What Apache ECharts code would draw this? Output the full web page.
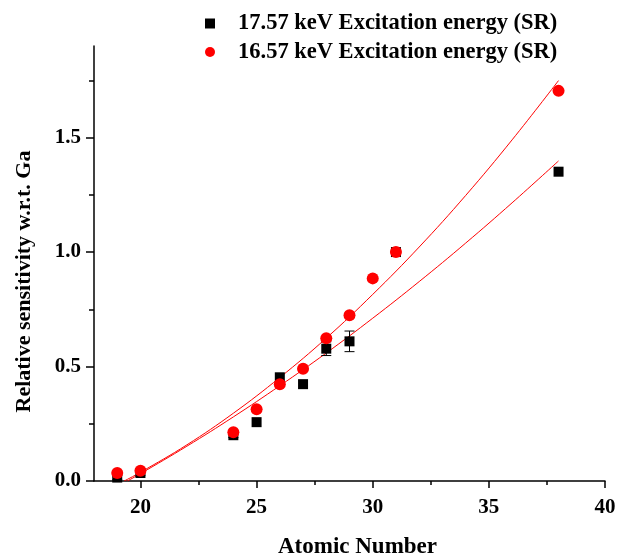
<!DOCTYPE html>
<html>
<head>
<meta charset="utf-8">
<script src="https://cdn.jsdelivr.net/npm/echarts@6/dist/echarts.min.js"></script>
<style>html,body{margin:0;padding:0;background:#fff}#c{width:617px;height:553px}</style>
</head>
<body>
<div id="c"></div>
<script>
// Data
const zSR17 = [19, 20, 24, 25, 26, 27, 28, 29, 31, 38];
const sensSR17 = [0.015, 0.035, 0.20, 0.257, 0.453, 0.423, 0.578, 0.61, 1.0, 1.351];
const errSR17 = [0.01, 0.01, 0.01, 0, 0, 0, 0.03, 0.045, 0, 0];

const zSR16 = [19, 20, 24, 25, 26, 27, 28, 29, 30, 31, 38];
const sensSR16 = [0.035, 0.045, 0.213, 0.313, 0.423, 0.49, 0.623, 0.724, 0.885, 1.0, 1.704];

// Fit curves, points
const fitZ17 = [19.44, 20, 22, 24, 26, 28, 30, 32, 34, 36, 38];
const fitY17 = [0, 0.032, 0.152, 0.280, 0.416, 0.559, 0.711, 0.871, 1.039, 1.215, 1.398];
const fitZ16 = [19.3, 20, 22, 24, 26, 28, 30, 32, 34, 36, 38];
const fitY16 = [0, 0.038, 0.158, 0.296, 0.452, 0.624, 0.815, 1.022, 1.247, 1.490, 1.749];

const xMajor = [20, 25, 30, 35, 40];
const xMinor = [22.5, 27.5, 32.5, 37.5];
const yMajor = [0, 0.5, 1.0, 1.5];
const yMinor = [0.25, 0.75, 1.25, 1.75];

const name17 = '17.57 keV Excitation energy (SR)';
const name16 = '16.57 keV Excitation energy (SR)';

const FONT = '"Liberation Serif", "Times New Roman", serif';
const zip = (a, b) => a.map((v, i) => [v, b[i]]);

const chart = echarts.init(document.getElementById('c'), null, {renderer: 'canvas'});

const axisLineStyle = {color: '#000', width: 1.5};
const labelStyle = {color: '#000', fontFamily: FONT, fontWeight: 'bold', fontSize: 21};

chart.setOption({
  animation: false,
  backgroundColor: '#fff',
  grid: {left: 94, right: 12, top: 46, bottom: 72, containLabel: false, outerBoundsMode: 'none'},
  legend: {
    orient: 'vertical',
    left: 205,
    top: 12,
    padding: 0,
    itemGap: 5.5,
    itemWidth: 10,
    itemHeight: 10,
    data: [
      {name: name17, icon: 'rect'},
      {name: name16, icon: 'circle'}
    ],
    textStyle: {color: '#000', fontFamily: FONT, fontWeight: 'bold', fontSize: 22.5, padding: [0, 0, 0, 18]}
  },
  xAxis: [{
    type: 'value', min: 18, max: 40,
    name: 'Atomic Number', nameLocation: 'middle', nameGap: 55,
    nameTextStyle: {color: '#000', fontFamily: FONT, fontWeight: 'bold', fontSize: 23, padding: [0, 0, 0, 16]},
    axisLine: {show: true, onZero: false, lineStyle: axisLineStyle},
    axisTick: {show: true, inside: false, length: 7, customValues: xMajor, lineStyle: {color: '#000', width: 1.5}},
    axisLabel: {customValues: xMajor, margin: 16, ...labelStyle},
    splitLine: {show: false}
  }, {
    type: 'value', min: 18, max: 40, position: 'bottom',
    axisLine: {show: false},
    axisTick: {show: true, inside: false, length: 4, customValues: xMinor, lineStyle: {color: '#000', width: 1.5}},
    axisLabel: {show: false},
    splitLine: {show: false}
  }],
  yAxis: [{
    type: 'value', min: 0, max: 1.9,
    name: 'Relative sensitivity w.r.t. Ga', nameLocation: 'middle', nameGap: 59,
    nameTextStyle: {color: '#000', fontFamily: FONT, fontWeight: 'bold', fontSize: 22, padding: [0, 36, 0, 0]},
    axisLine: {show: true, onZero: false, lineStyle: axisLineStyle},
    axisTick: {show: true, inside: false, length: 8, customValues: yMajor, lineStyle: {color: '#000', width: 1.5}},
    axisLabel: {customValues: yMajor, margin: 13, formatter: v => v.toFixed(1), ...labelStyle},
    splitLine: {show: false}
  }, {
    type: 'value', min: 0, max: 1.9, position: 'left',
    axisLine: {show: false},
    axisTick: {show: true, inside: false, length: 5, customValues: yMinor, lineStyle: {color: '#000', width: 1.5}},
    axisLabel: {show: false},
    splitLine: {show: false}
  }],
  series: [
    {
      type: 'line', name: 'fit17', data: zip(fitZ17, fitY17), smooth: 0.4,
      showSymbol: false, symbol: 'none', lineStyle: {color: '#ff0000', width: 1}, z: 2, silent: true
    },
    {
      type: 'line', name: 'fit16', data: zip(fitZ16, fitY16), smooth: 0.4,
      showSymbol: false, symbol: 'none', lineStyle: {color: '#ff0000', width: 1}, z: 2, silent: true
    },
    {
      type: 'custom', name: 'err17', z: 3,
      data: zSR17.map((z, i) => [z, sensSR17[i], errSR17[i]]).filter(d => d[2] > 0),
      renderItem: function (params, api) {
        const x = api.value(0), y = api.value(1), e = api.value(2);
        const top = api.coord([x, y + e]);
        const bot = api.coord([x, y - e]);
        const hw = 5;
        const st = {stroke: '#000', lineWidth: 1};
        return {type: 'group', children: [
          {type: 'line', shape: {x1: top[0], y1: top[1], x2: bot[0], y2: bot[1]}, style: st},
          {type: 'line', shape: {x1: top[0] - hw, y1: top[1], x2: top[0] + hw, y2: top[1]}, style: st},
          {type: 'line', shape: {x1: bot[0] - hw, y1: bot[1], x2: bot[0] + hw, y2: bot[1]}, style: st}
        ]};
      }
    },
    {
      type: 'scatter', name: name17, data: zip(zSR17, sensSR17),
      symbol: 'rect', symbolSize: 10, itemStyle: {color: '#000', opacity: 1}, z: 4
    },
    {
      type: 'scatter', name: name16, data: zip(zSR16, sensSR16),
      symbol: 'circle', symbolSize: 12, itemStyle: {color: '#ff0000', opacity: 1}, z: 5
    }
  ]
});
</script>
</body>
</html>
